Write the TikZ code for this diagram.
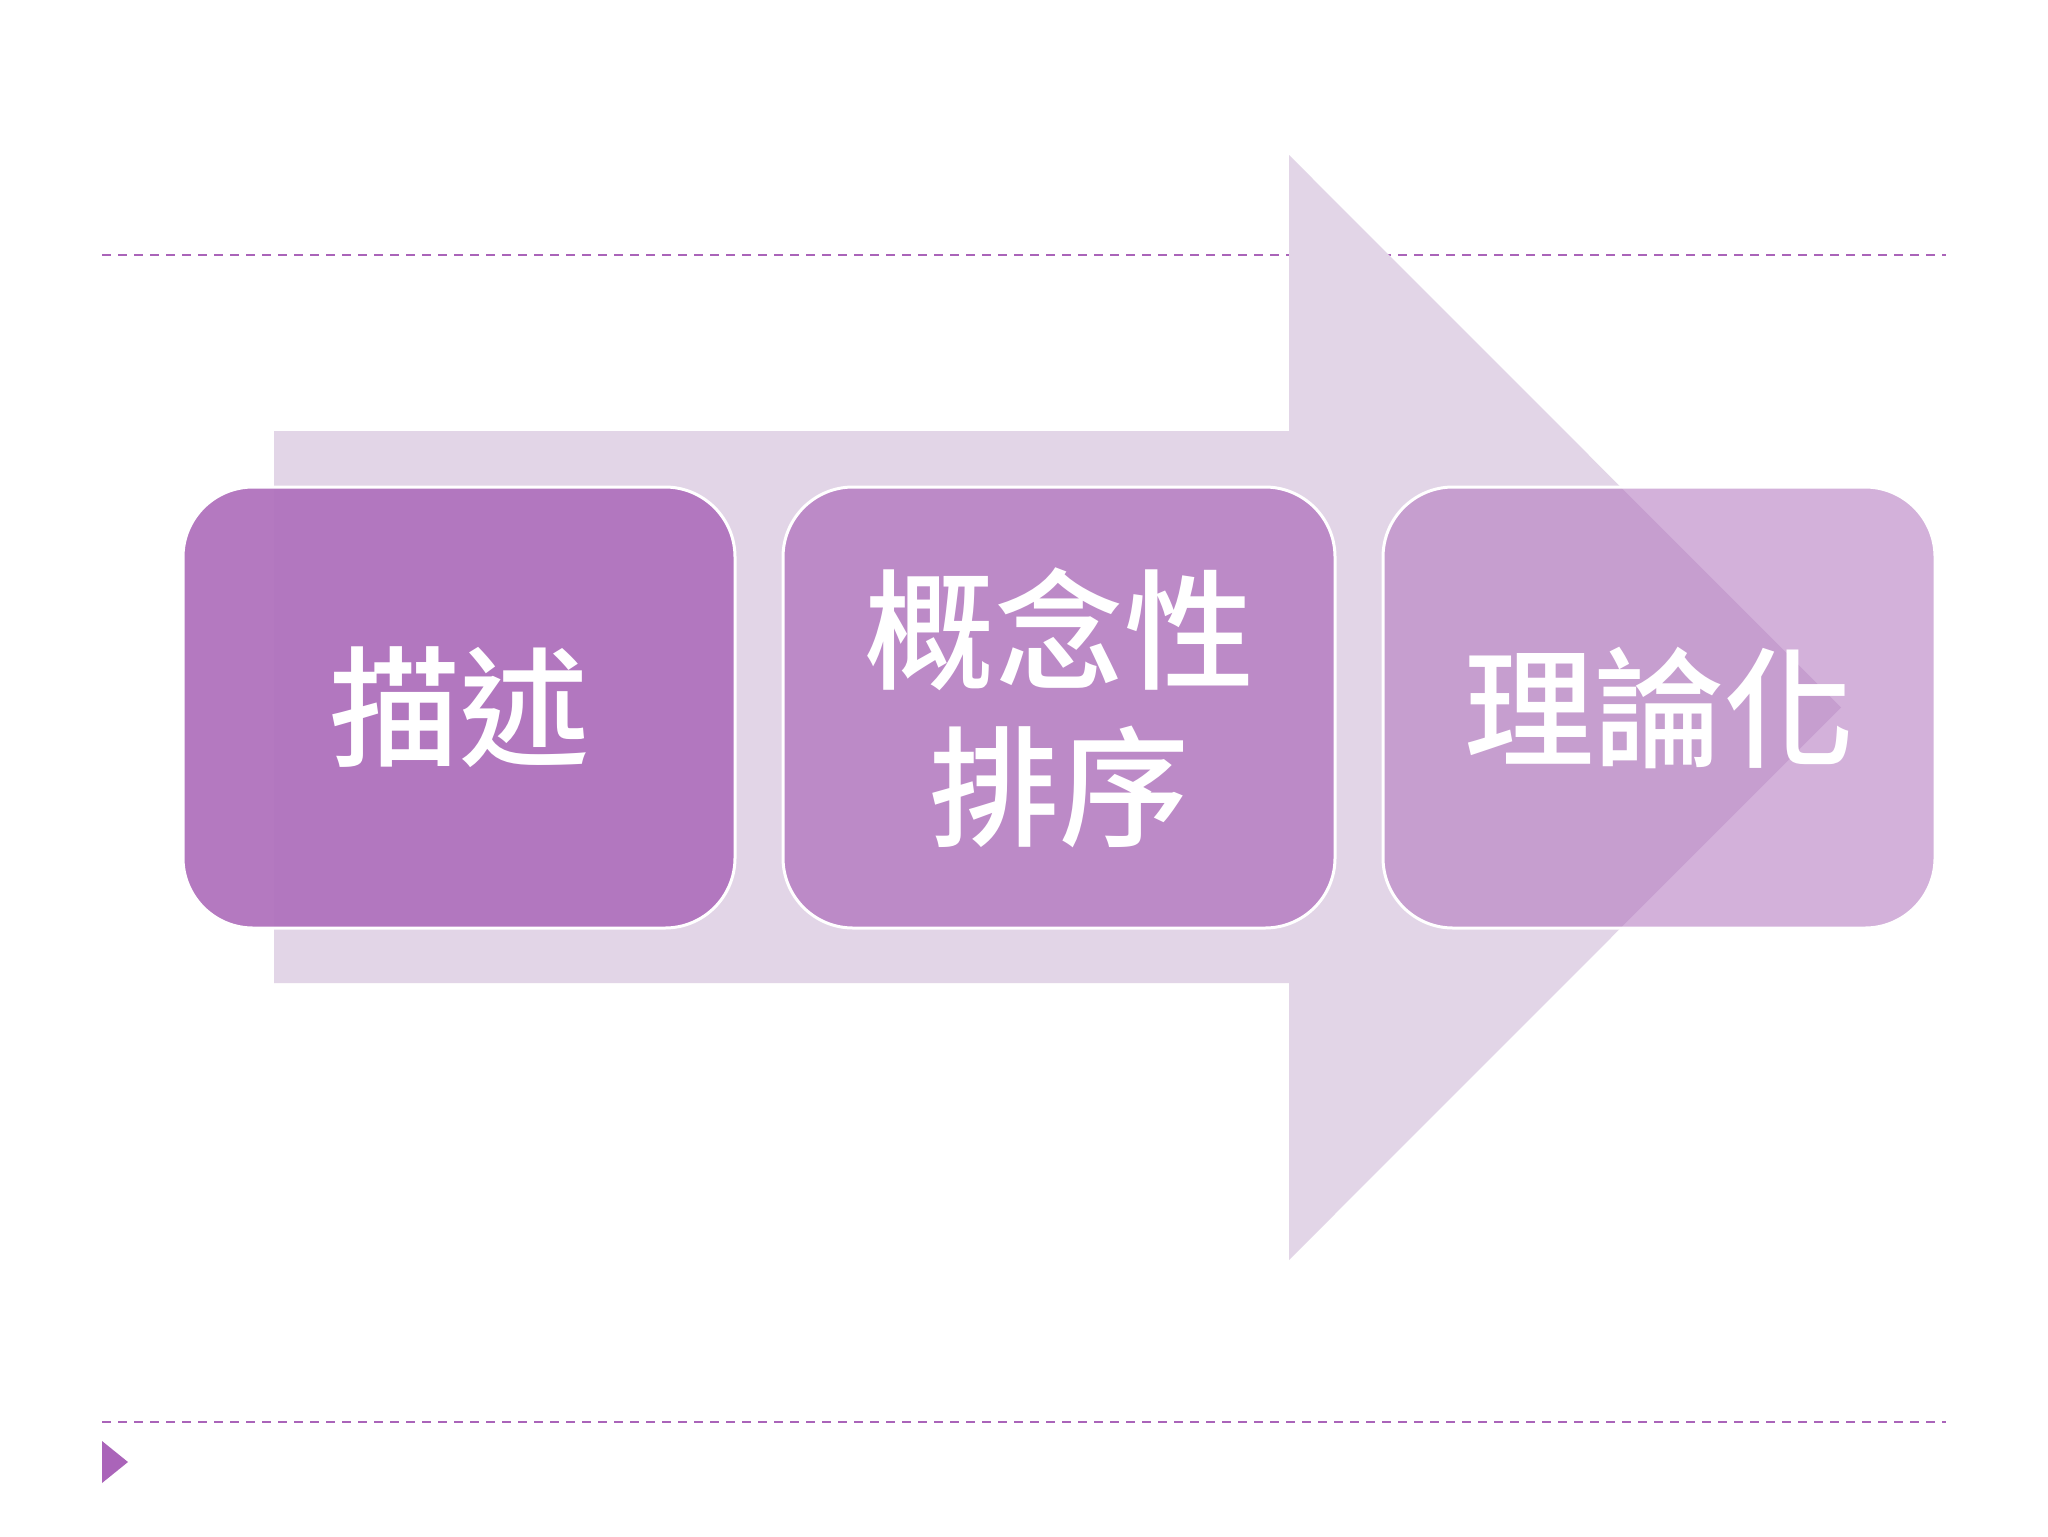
\documentclass[tikz,border=0pt]{standalone}
\usepackage{fontspec}
\newfontfamily\cjk{Noto Sans CJK TC Medium}
\definecolor{arrowfill}{RGB}{226,213,231}
\definecolor{boxpurple}{RGB}{176,114,189}
\definecolor{dashpurple}{RGB}{170,100,185}
\begin{document}
\begin{tikzpicture}[x=0.5pt,y=-0.5pt,
  stepbox/.style={draw=white, line width=1.5pt, fill=boxpurple, rounded corners=35pt,
    minimum width=276pt, minimum height=220.5pt, inner sep=0pt, text=white,
    align=center, font=\cjk\fontsize{65pt}{78.5pt}\selectfont},
  guide/.style={draw=dashpurple, line width=1.2pt, dash pattern=on 4.5pt off 3.5pt}]
\useasboundingbox (0,0) rectangle (2048,1536);
\fill[white] (0,0) rectangle (2048,1536);
% guide lines
\coordinate (g1a) at (102,255);
\coordinate (g1b) at (1946,255);
\coordinate (g2a) at (102,1422);
\coordinate (g2b) at (1946,1422);
\draw[guide] (g1a) -- (g1b);
\draw[guide] (g2a) -- (g2b);
% bullet triangle
\fill[dashpurple] (102,1441) -- (128,1462) -- (102,1483) -- cycle;
% big arrow
\fill[arrowfill] (274,431) -- (1289,431) -- (1289,155) -- (1841,707.5)
  -- (1289,1260) -- (1289,983) -- (274,983) -- cycle;
% boxes
\node[stepbox, fill opacity=0.95, text opacity=1] (b1) at (459,707.5) {\raisebox{3pt}{描述}};
\node[stepbox, fill opacity=0.75, text opacity=1] (b2) at (1059,707.5) {\raisebox{3pt}{概念性}\\\raisebox{3pt}{排序}};
\node[stepbox, fill opacity=0.55, text opacity=1] (b3) at (1659,707.5) {\raisebox{3pt}{理論化}};
\end{tikzpicture}
\end{document}
